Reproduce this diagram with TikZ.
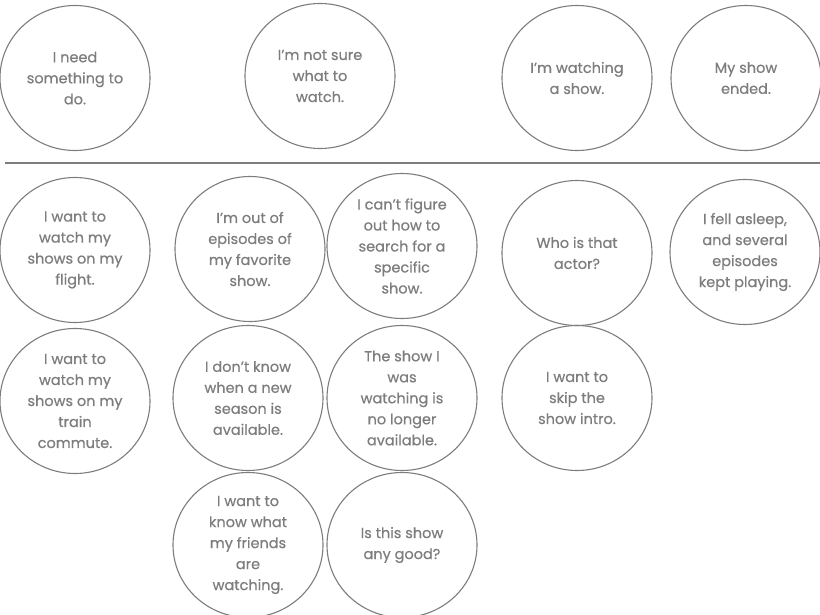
\documentclass[tikz,border=0pt]{standalone}
\usepackage{fontspec}
\setmainfont{Poppins}[FakeBold=0.6]
\usetikzlibrary{shapes.geometric}
\definecolor{txtgray}{RGB}{125,125,125}
\definecolor{linegray}{RGB}{125,125,125}
\begin{document}
\begin{tikzpicture}[x=1pt,y=-1pt,
  bubble/.style={ellipse, draw=linegray, line width=1.1pt, minimum width=150pt, minimum height=145pt, inner sep=0pt, align=center, text=txtgray, font=\fontsize{14.5}{21}\selectfont},
  sepline/.style={draw=linegray, line width=1.3pt}]
\useasboundingbox (0,0) rectangle (820,615);
\node[bubble] (n1) at (75,78) {I need\\something to\\do.};
\node[bubble] (n2) at (320,76) {I’m not sure\\what to\\watch.};
\node[bubble] (n3) at (577,78) {I’m watching\\a show.};
\node[bubble] (n4) at (746,78) {My show\\ended.};
\coordinate (lL) at (5,163);
\coordinate (lR) at (820,163);
\draw[sepline] (lL) -- (lR);
\node[bubble] (n5) at (75,250) {I want to\\watch my\\shows on my\\flight.};
\node[bubble] (n6) at (250,249) {I’m out of\\episodes of\\my favorite\\show.};
\node[bubble] (n7) at (402,246) {I can’t figure\\out how to\\search for a\\specific\\show.};
\node[bubble] (n8) at (577,253) {Who is that\\actor?};
\node[bubble] (n9) at (745,252) {I fell asleep,\\and several\\episodes\\kept playing.};
\node[bubble] (n10) at (75,401) {I want to\\watch my\\shows on my\\train\\commute.};
\node[bubble] (n11) at (248,398) {I don’t know\\when a new\\season is\\available.};
\node[bubble] (n12) at (402,398) {The show I\\was\\watching is\\no longer\\available.};
\node[bubble] (n13) at (577,398) {I want to\\skip the\\show intro.};
\node[bubble] (n14) at (248,545) {I want to\\know what\\my friends\\are\\watching.};
\node[bubble] (n15) at (402,545) {Is this show\\any good?};
\end{tikzpicture}
\end{document}
